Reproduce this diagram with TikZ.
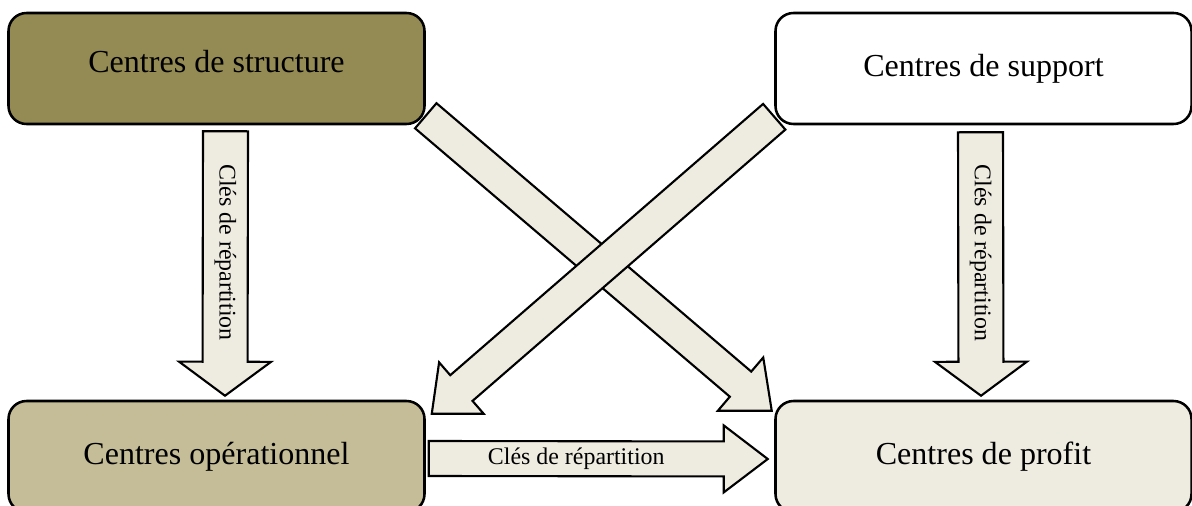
\documentclass[tikz,border=0pt]{standalone}
\usepackage{fontspec}
\setmainfont{Liberation Serif}
\usetikzlibrary{calc}
\definecolor{centreOlive}{HTML}{948A54}
\definecolor{centreTan}{HTML}{C4BD97}
\definecolor{centrePale}{HTML}{EEECE1}

% sizes of the block arrows, set per arrow
\tikzset{
  block shaft/.store in=\bShaft, block shaft=1cm,
  block head/.store in=\bHead, block head=2cm,
  block tip/.store in=\bTip, block tip=1cm
}

\begin{document}
\begin{tikzpicture}[
  centre/.style={draw=black, line width=1.8pt, rounded corners=0.45cm, minimum width=10.4cm, minimum height=2.775cm, align=center, font=\fontsize{22.8}{27}\selectfont},
  blockarrow/.style={draw=black, fill=centrePale, line width=1.5pt, line join=miter,
    to path={
      let \p1=(\tikztostart), \p2=(\tikztotarget), \n1={atan2(\y2-\y1,\x2-\x1)},
          \p3=($(\p1)!0.5!(\p2)+(\n1+180:\bTip/2)$) in
      ($(\p1)+(\n1+90:\bShaft/2)$)
      -- ($(\p2)+(\n1+180:\bTip)+(\n1+90:\bShaft/2)$)
      -- ($(\p2)+(\n1+180:\bTip)+(\n1+90:\bHead/2)$)
      -- (\p2)
      -- ($(\p2)+(\n1+180:\bTip)+(\n1-90:\bHead/2)$)
      -- ($(\p2)+(\n1+180:\bTip)+(\n1-90:\bShaft/2)$)
      -- ($(\p1)+(\n1-90:\bShaft/2)$) -- cycle
      (\p3) -- (\p3) \tikztonodes
    }},
  key/.style={font=\fontsize{17}{20}\selectfont, inner sep=0pt}
]
  \useasboundingbox (0,0) rectangle (29.8,-12.65);

  \node[centre, fill=centreOlive, text depth=0.35cm] (struct) at (5.4125,-1.7125) {Centres de structure};
  \node[centre, fill=white] (support) at (24.5875,-1.7125) {Centres de support};
  \node[centre, fill=centreTan] (oper) at (5.4125,-11.4125) {Centres opérationnel};
  \node[centre, fill=centrePale] (profit) at (24.5875,-11.4125) {Centres de profit};

  % straight down on both sides
  \draw[blockarrow, block shaft=1.125cm, block head=2.3cm, block tip=0.85cm]
    ([shift={(0.225,-0.15)}]struct.south) to node[key, yshift=-0.15cm, rotate=-90]{Clés de répartition} ([shift={(0.2125,0.1)}]oper.north);
  \draw[blockarrow, block shaft=1.125cm, block head=2.3cm, block tip=0.85cm]
    ([shift={(-0.075,-0.175)}]support.south) to node[key, yshift=-0.15cm, rotate=-90]{Clés de répartition} ([shift={(-0.0625,0.1)}]profit.north);

  % the two crossing arrows
  \draw[blockarrow, block shaft=0.825cm, block head=1.75cm, block tip=1.025cm]
    ([shift={(0,0.2375)}]struct.south east) to ([shift={(-0.0625,-0.275)}]profit.north west);
  \draw[blockarrow, block shaft=0.85cm, block head=1.7cm, block tip=0.98cm]
    ([shift={(0,0.2125)}]support.south west) to ([shift={(0.15,-0.35)}]oper.north east);

  \draw[blockarrow, block shaft=0.875cm, block head=1.675cm, block tip=1.1cm]
    ([shift={(0.075,-0.05)}]oper.east) to node[key]{Clés de répartition} ([shift={(-0.1625,-0.0625)}]profit.west);
\end{tikzpicture}
\end{document}
